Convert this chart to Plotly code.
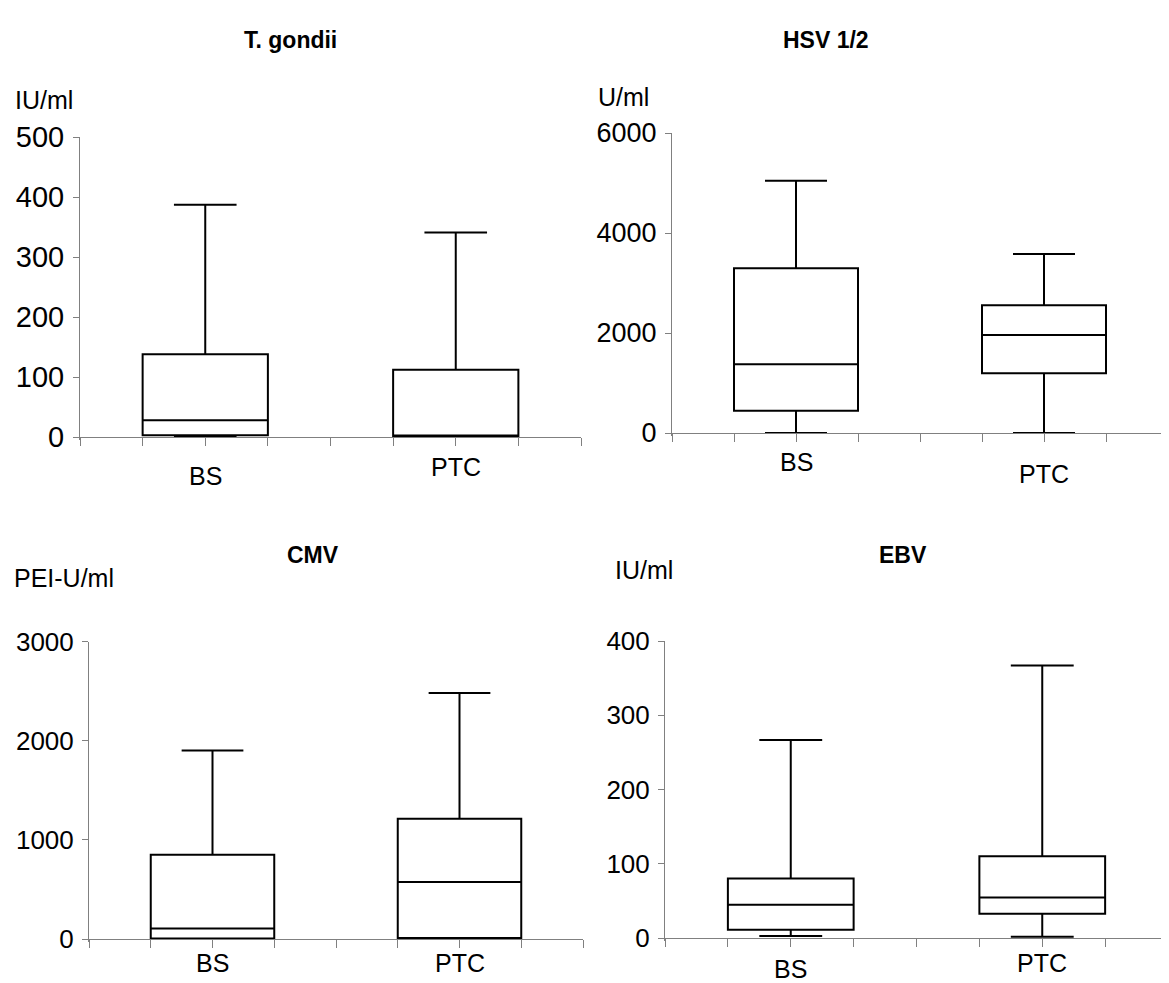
import plotly.graph_objects as go

W, H = 1169, 983
OFF = 8  # browser body margin offset compensation

categories = ["BS", "PTC"]
cat_pos = [2, 6]

# T. gondii (IU/ml)
tg_lower = [0, 0]
tg_q1 = [3, 1]
tg_median = [28, 1]
tg_q3 = [138, 112]
tg_upper = [387, 341]
tg_ticks = [0, 100, 200, 300, 400, 500]

# HSV 1/2 (U/ml)
hsv_lower = [0, 0]
hsv_q1 = [447, 1193]
hsv_median = [1373, 1960]
hsv_q3 = [3293, 2553]
hsv_upper = [5047, 3580]
hsv_ticks = [0, 2000, 4000, 6000]

# CMV (PEI-U/ml)
cmv_lower = [0, 0]
cmv_q1 = [5, 10]
cmv_median = [107, 575]
cmv_q3 = [850, 1213]
cmv_upper = [1901, 2480]
cmv_ticks = [0, 1000, 2000, 3000]

# EBV (IU/ml)
ebv_lower = [2.7, 1.8]
ebv_q1 = [11, 32.7]
ebv_median = [44.8, 54.6]
ebv_q3 = [80, 110]
ebv_upper = [266.5, 367]
ebv_ticks = [0, 100, 200, 300, 400]

FONT = "Liberation Sans, Arial, sans-serif"
TFONT = "Liberation Sans Narrow, Liberation Sans, Arial, sans-serif"
GREY = "#808080"

panels = [
    dict(title="T. gondii", unit="IU/ml", lower=tg_lower, q1=tg_q1, med=tg_median, q3=tg_q3, up=tg_upper,
         ticks=tg_ticks, px=(80, 581), py=(137, 437), tsize=29,
         title_xy=(290, 40), unit_xy=(13, 100), lab_y=[476, 467]),
    dict(title="HSV 1/2", unit="U/ml", lower=hsv_lower, q1=hsv_q1, med=hsv_median, q3=hsv_q3, up=hsv_upper,
         ticks=hsv_ticks, px=(672, 1168), py=(133, 433), tsize=27,
         title_xy=(826, 40), unit_xy=(596, 97), lab_y=[462, 474]),
    dict(title="CMV", unit="PEI-U/ml", lower=cmv_lower, q1=cmv_q1, med=cmv_median, q3=cmv_q3, up=cmv_upper,
         ticks=cmv_ticks, px=(89, 583), py=(641.5, 939), tsize=26,
         title_xy=(313, 555), unit_xy=(12, 578), lab_y=[963, 963]),
    dict(title="EBV", unit="IU/ml", lower=ebv_lower, q1=ebv_q1, med=ebv_median, q3=ebv_q3, up=ebv_upper,
         ticks=ebv_ticks, px=(665, 1168), py=(641, 938), tsize=26,
         title_xy=(903, 555), unit_xy=(613, 570), lab_y=[969, 963]),
]

def fx(p):
    return (p - OFF) / W

def fy(p):
    return 1 - (p - OFF) / H

fig = go.Figure()
annotations = []
EXTRA = 3  # pixels below zero so zero-level caps are not clipped

for i, p in enumerate(panels, start=1):
    xa = "x" if i == 1 else f"x{i}"
    ya = "y" if i == 1 else f"y{i}"
    xkey = "xaxis" if i == 1 else f"xaxis{i}"
    ykey = "yaxis" if i == 1 else f"yaxis{i}"
    top = p["ticks"][-1]
    (x0, x1), (yt, y0) = p["px"], p["py"]
    scale = (y0 - yt) / top
    ymin = -EXTRA / scale

    fig.add_trace(go.Box(
        x=cat_pos, q1=p["q1"], median=p["med"], q3=p["q3"],
        lowerfence=p["lower"], upperfence=p["up"],
        width=2, whiskerwidth=0.5, boxpoints=False,
        fillcolor="white", line=dict(color="black", width=2),
        xaxis=xa, yaxis=ya, showlegend=False, hoverinfo="skip",
    ))

    fig.layout[xkey] = dict(
        domain=[fx(x0), fx(x1)], range=[0, 8], anchor="free", position=fy(y0),
        tickmode="array", tickvals=list(range(9)), showticklabels=False,
        ticks="outside", ticklen=8, tickcolor=GREY, tickwidth=1,
        showline=True, linecolor=GREY, linewidth=1, showgrid=False, zeroline=False,
        fixedrange=True, automargin=False,
    )
    fig.layout[ykey] = dict(
        domain=[fy(y0 + EXTRA), fy(yt)], range=[ymin, top], anchor=xa,
        tickmode="array", tickvals=p["ticks"], ticktext=[str(t) for t in p["ticks"]],
        ticks="outside", ticklen=6, tickcolor=GREY, tickwidth=1, ticklabelstandoff=3,
        tickfont=dict(family=FONT, size=p["tsize"], color="black"),
        showline=True, linecolor=GREY, linewidth=1, showgrid=False, zeroline=False,
        fixedrange=True, automargin=False,
    )

    annotations.append(dict(
        text=f"<b>{p['title']}</b>", x=fx(p["title_xy"][0]), y=fy(p["title_xy"][1]),
        xref="paper", yref="paper", showarrow=False, xanchor="center", yanchor="middle",
        font=dict(family=TFONT, size=23, color="black"),
    ))
    annotations.append(dict(
        text=p["unit"], x=fx(p["unit_xy"][0]), y=fy(p["unit_xy"][1]),
        xref="paper", yref="paper", showarrow=False, xanchor="left", yanchor="middle",
        font=dict(family=FONT, size=25, color="black"),
    ))
    for c, cx, ly in zip(categories, cat_pos, p["lab_y"]):
        annotations.append(dict(
            text=c, x=cx, y=fy(ly), xref=xa, yref="paper", showarrow=False,
            xanchor="center", yanchor="middle",
            font=dict(family=FONT, size=25, color="black"),
        ))

fig.update_layout(
    width=W, height=H, margin=dict(l=0, r=0, t=0, b=0, autoexpand=False),
    paper_bgcolor="white", plot_bgcolor="white",
    annotations=annotations, showlegend=False,
)

fig.write_html("out.html")
